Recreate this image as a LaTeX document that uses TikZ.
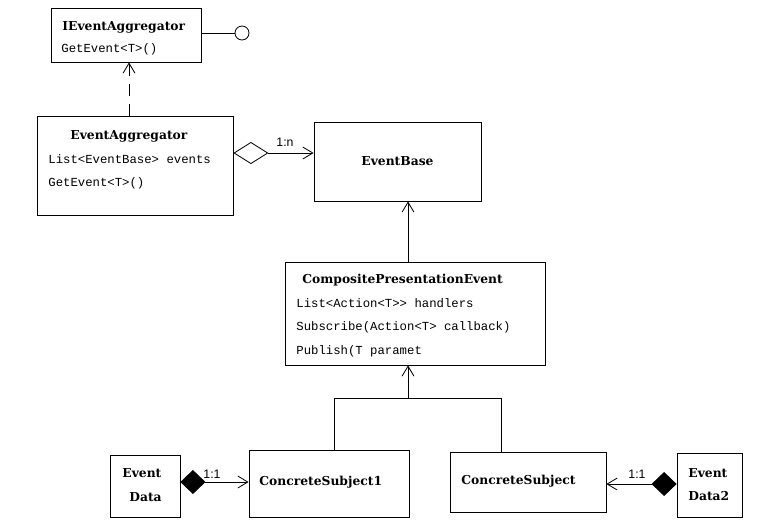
\documentclass[tikz,border=0pt]{standalone}
\usepackage{fontspec}
\setmainfont{DejaVu Serif}
\setsansfont{Liberation Sans}
\setmonofont{Liberation Mono}
\usepackage{tikz}
\usetikzlibrary{arrows.meta,calc}
\tikzset{
    box/.style={draw, rectangle, inner sep=0pt},
    ttl/.style={anchor=west, inner sep=0pt, font=\bfseries\fontsize{10.5}{12}\selectfont},
    mem/.style={anchor=west, inner sep=0pt, font=\ttfamily\fontsize{10.5}{12}\selectfont},
    mult/.style={inner sep=0pt, font=\sffamily\fontsize{10.5}{12}\selectfont},
    barb/.tip={Straight Barb[length=3mm,width=3.6mm]}}

\begin{document}
\begin{tikzpicture}[x=0.03cm, y=-0.03cm, line width=0.7pt]
\useasboundingbox (0,0) rectangle (763,519);
% classes
\node[box, minimum width=4.5cm, minimum height=1.62cm] (iagg) at (126,35) {};
\node[ttl] (iagg-t) at (62,27) {IEventAggregator};
\node[mem] (iagg-m) at (61,49) {GetEvent<T>()};
\node[draw, circle, inner sep=0pt, minimum size=0.42cm] (lolli) at (242,33) {};
\draw (lolli -| iagg.east)--(lolli);

\node[box, minimum width=5.88cm, minimum height=2.97cm] (agg) at (135,165.5) {};
\node[ttl] (agg-t) at (70,136) {EventAggregator};
\node[mem] (agg-m1) at (48,159) {List<EventBase> events};
\node[mem] (agg-m2) at (48,183) {GetEvent<T>()};
\coordinate (d) at (129,0);
\draw[-barb, dash pattern=on 0.36cm off 0.24cm] (agg.north -| d)--(iagg.south -| d);

\node[box, minimum width=5.01cm, minimum height=2.37cm, font=\bfseries\fontsize{10.5}{12}\selectfont] (base) at (397.5,161.5) {EventBase};
\coordinate (c) at (0,153);
\draw[{Diamond[open,length=1.05cm,width=0.66cm]}-barb] (agg.east |- c)--(base.west |- c);
\node[mult] (mult-n) at (285,142) {1:n};

\node[box, minimum width=7.8cm, minimum height=3.09cm] (comp) at (415,313.5) {};
\node[ttl] (comp-t) at (302,280) {CompositePresentationEvent};
\node[mem] (comp-m1) at (296,303) {List<Action<T>> handlers};
\node[mem] (comp-m2) at (296,327) {Subscribe(Action<T> callback)};
\node[mem] (comp-m3) at (296,351) {Publish(T paramet};
\coordinate (e) at (408,0);
\draw[-barb] (comp.north -| e)--(base.south -| e);

% subjects
\node[box, minimum width=4.8cm, minimum height=2.01cm] (sub1) at (329,483.5) {};
\node[ttl] (sub1-t) at (259,482) {ConcreteSubject1};
\node[box, minimum width=4.68cm, minimum height=1.8cm] (sub2) at (528,482) {};
\node[ttl] (sub2-t) at (461,481) {ConcreteSubject};
\coordinate (j) at (408,398);
\coordinate (s1) at (334,0);
\coordinate (s2) at (501,0);
\draw (sub1.north -| s1) |- (j) -| (sub2.north -| s2);
\draw[-barb] (j)--(comp.south -| j);

% event data
\node[box, minimum width=2.1cm, minimum height=1.86cm] (data1) at (145,486) {};
\node[ttl] (data1-t1) at (122,473) {Event};
\node[ttl] (data1-t2) at (129,497) {Data};
\coordinate (f) at (0,482);
\draw[{Diamond[length=0.75cm,width=0.72cm]}-barb] (data1.east |- f)--(sub1.west |- f);
\node[mult] (mult-1) at (212,474) {1:1};

\node[box, minimum width=1.95cm, minimum height=1.92cm] (data2) at (709.5,485) {};
\node[ttl] (data2-t1) at (688,473) {Event};
\node[ttl] (data2-t2) at (688,496) {Data2};
\coordinate (g) at (0,484);
\draw[{Diamond[length=0.75cm,width=0.72cm]}-barb] (data2.west |- g)--(sub2.east |- g);
\node[mult] (mult-2) at (637,474) {1:1};
\end{tikzpicture}
\end{document}
